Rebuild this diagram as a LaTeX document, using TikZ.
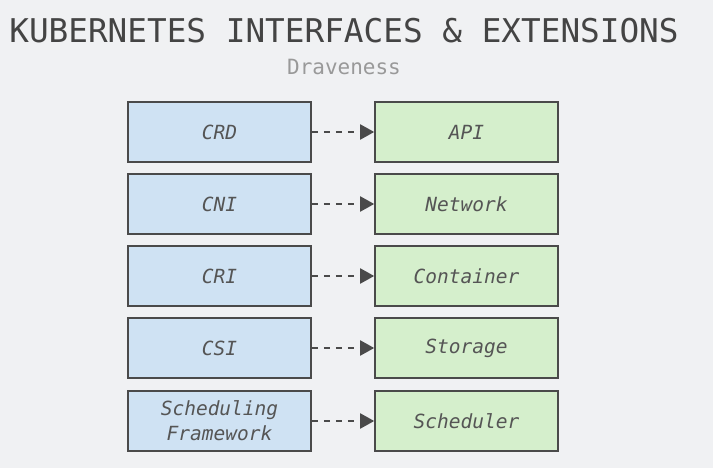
\documentclass[tikz,border=0pt]{standalone}
\usepackage{fontspec}
\setmonofont{DejaVu Sans Mono}
\usetikzlibrary{arrows.meta}
\definecolor{bgcol}{HTML}{F0F1F3}
\definecolor{ifacefill}{HTML}{CFE2F3}
\definecolor{extfill}{HTML}{D5EFCC}
\definecolor{edgecol}{HTML}{4A4A4A}
\definecolor{textcol}{HTML}{555555}
\definecolor{titlecol}{HTML}{444444}
\definecolor{subcol}{HTML}{999999}

\tikzset{
  box/.style={draw=edgecol, line width=1.6pt, minimum width=183pt, minimum height=60pt,
    inner sep=0pt, align=center, text=textcol,
    font=\fontsize{19.5}{25}\selectfont\ttfamily\itshape},
  iface/.style={box, fill=ifacefill},
  ext/.style={box, fill=extfill},
  link/.style={draw=edgecol, line width=2pt, dash pattern=on 6pt off 6pt,
    -{Triangle[length=14pt,width=15pt]}},
}

\begin{document}
\begin{tikzpicture}[x=1pt, y=-1pt]
  \def\lx{219.5}
  \def\rx{466.5}
  %
  \fill[bgcol] (0,0) rectangle (713,468);
  \useasboundingbox (0,0) rectangle (713,468);
  %
  \node[text=titlecol, font=\fontsize{32.7}{36}\selectfont\ttfamily] (title) at (344,31)
    {KUBERNETES INTERFACES \& EXTENSIONS};
  \node[text=subcol, font=\fontsize{21}{24}\selectfont\ttfamily] (author) at (344,67) {Draveness};
  %
  \node[iface] (crd)   at (\lx,132) {CRD};        % interfaces
  \node[iface] (cni)   at (\lx,204) {CNI};
  \node[iface] (cri)   at (\lx,276) {CRI};
  \node[iface] (csi)   at (\lx,348) {CSI};
  \node[iface] (sched) at (\lx,421) {Scheduling\\Framework};
  %%
  \node[ext] (api)       at (\rx,132) {API};      % extensions
  \node[ext] (network)   at (\rx,204) {Network};
  \node[ext] (container) at (\rx,276) {Container};
  \node[ext] (storage)   at (\rx,348) {Storage};
  \node[ext] (scheduler) at (\rx,421) {Scheduler};
  %
  \draw[link] (crd)   -- (api);
  \draw[link] (cni)   -- (network);
  \draw[link] (cri)   -- (container);
  \draw[link] (csi)   -- (storage);
  \draw[link] (sched) -- (scheduler);
  %
\end{tikzpicture}
\end{document}
